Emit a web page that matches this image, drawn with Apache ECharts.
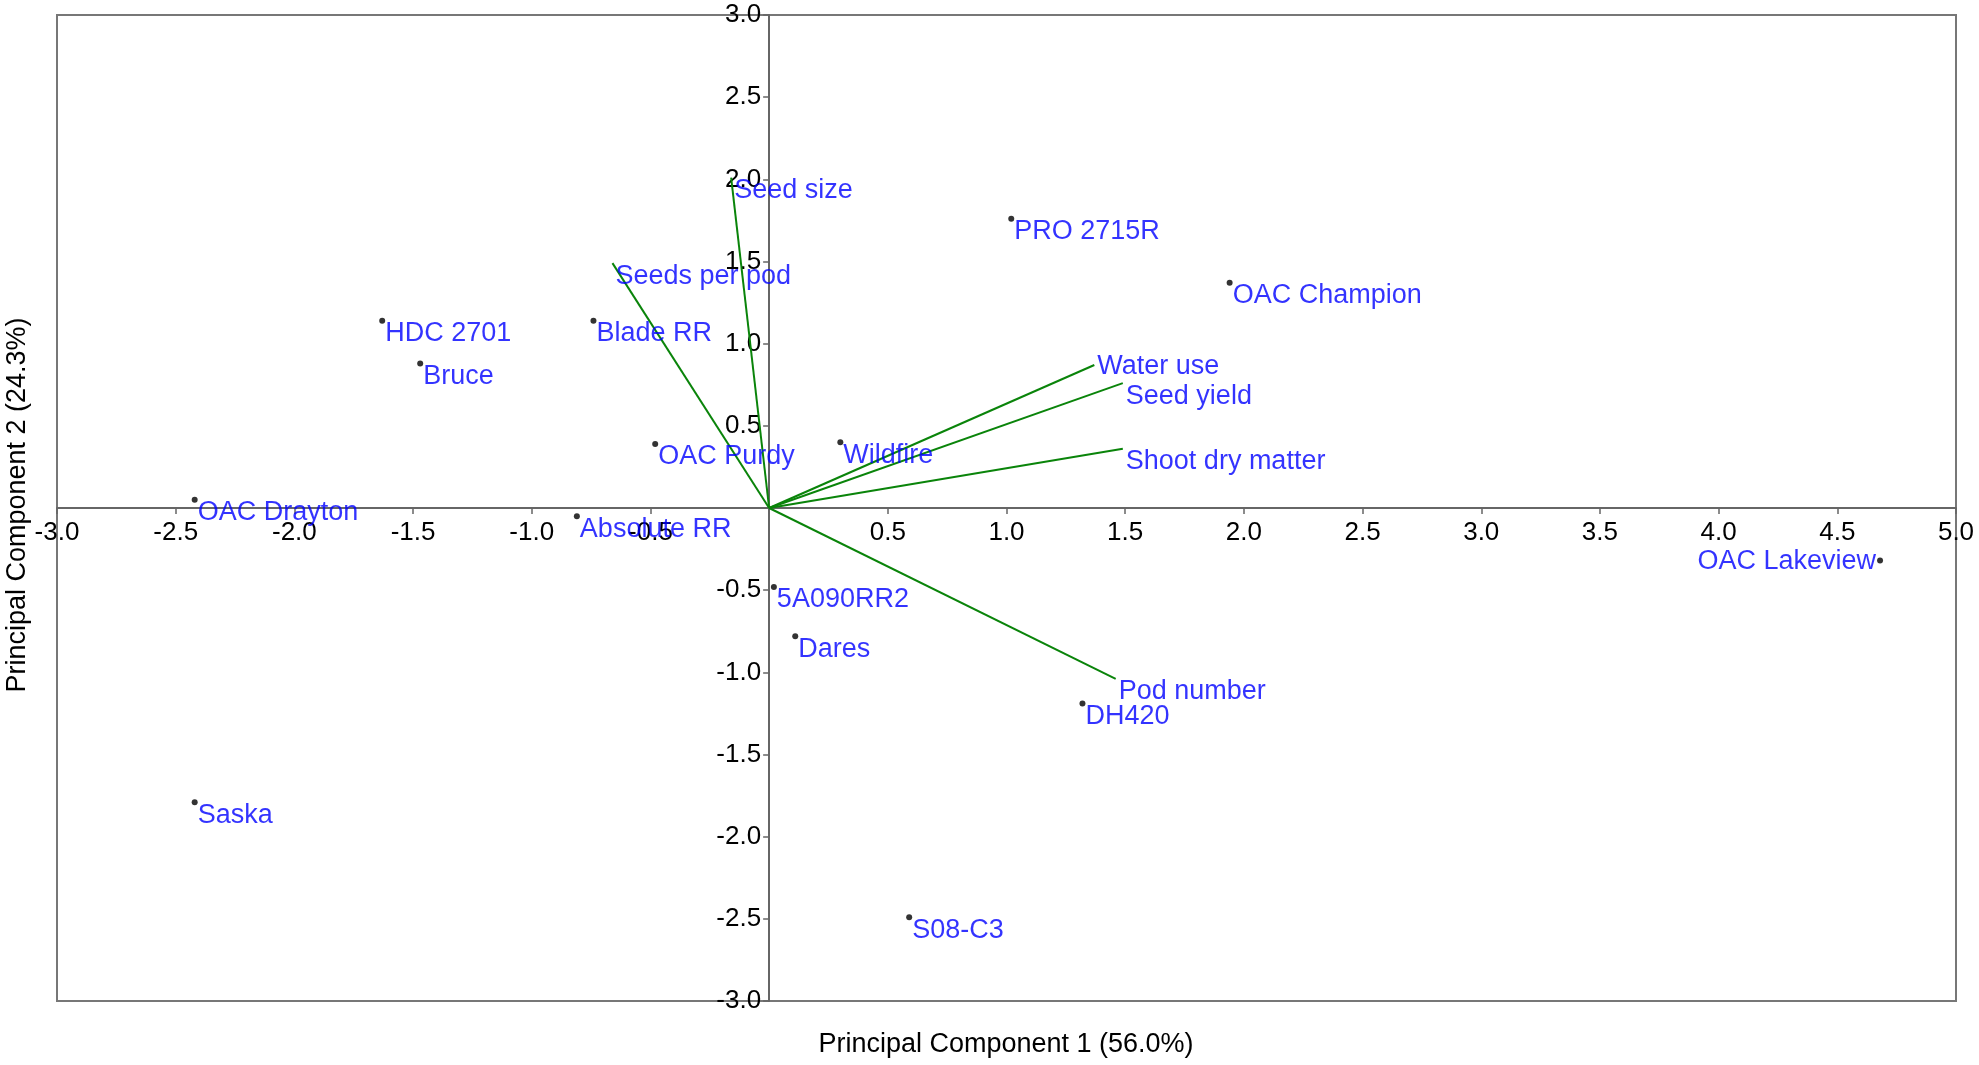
<!DOCTYPE html>
<html>
<head>
<meta charset="utf-8">
<title>PCA biplot</title>
<script src="https://cdn.jsdelivr.net/npm/echarts@6/dist/echarts.min.js"></script>
<style>
  html, body { margin: 0; padding: 0; background: #fff; }
  #chart { width: 1979px; height: 1065px; }
</style>
</head>
<body>
<div id="chart"></div>
<script>
// cultivar scores
var varieties = ['HDC 2701', 'Blade RR', 'Bruce', 'OAC Purdy', 'Wildfire', 'OAC Drayton',
    'Absolute RR', '5A090RR2', 'Dares', 'DH420', 'Saska', 'S08-C3', 'PRO 2715R',
    'OAC Champion', 'OAC Lakeview'];
var pc1 = [-1.63, -0.74, -1.47, -0.48, 0.30, -2.42, -0.81, 0.02, 0.11, 1.32, -2.42, 0.59, 1.02, 1.94, 4.68];
var pc2 = [1.14, 1.14, 0.88, 0.39, 0.40, 0.05, -0.05, -0.48, -0.78, -1.19, -1.79, -2.49, 1.76, 1.37, -0.32];

// trait loadings (vectors from origin)
var traits = ['Seed size', 'Seeds per pod', 'Water use', 'Seed yield', 'Shoot dry matter', 'Pod number'];
var traitPc1 = [-0.16, -0.66, 1.37, 1.49, 1.49, 1.46];
var traitPc2 = [2.01, 1.49, 0.87, 0.76, 0.36, -1.04];

var font = "'Liberation Sans', Arial, sans-serif";
var axisColor = '#666666';
var labelBlue = '#0000ff';

// label tweaks
var labelLeft = { 'OAC Lakeview': true };
var labelHigh = { 'Water use': true };

function tickFmt(v) {
    if (Math.abs(v) < 1e-9) return '';
    return v.toFixed(1);
}

var pointData = varieties.map(function (name, i) {
    var item = { name: name, value: [pc1[i], pc2[i]] };
    if (labelLeft[name]) {
        item.label = { position: 'left', offset: [0, 1], distance: 1 };
    }
    return item;
});

var vectorData = traits.map(function (name, i) {
    return { name: name, coords: [[0, 0], [traitPc1[i], traitPc2[i]]] };
});

var vectorEnds = traits.map(function (name, i) {
    var item = { name: name, value: [traitPc1[i], traitPc2[i]] };
    if (labelHigh[name]) {
        item.label = { offset: [0, 2] };
    }
    return item;
});

var myChart = echarts.init(document.getElementById('chart'));

var option = {
    backgroundColor: '#ffffff',
    animation: false,
    grid: {
        left: 57,
        right: 23,
        top: 15,
        bottom: 64,
        show: true,
        backgroundColor: '#ffffff',
        borderColor: '#777777',
        borderWidth: 2
    },
    xAxis: {
        type: 'value',
        min: -3,
        max: 5,
        interval: 0.5,
        offset: 0,
        axisLine: { show: true, onZero: false, lineStyle: { color: axisColor, width: 2 } },
        axisTick: { show: true, length: 6, lineStyle: { color: axisColor, width: 1.5 } },
        axisLabel: {
            formatter: tickFmt,
            color: '#000',
            fontSize: 26,
            fontFamily: font,
            margin: 12,
            showMinLabel: true,
            showMaxLabel: true
        },
        splitLine: { show: false }
    },
    yAxis: {
        type: 'value',
        min: -3,
        max: 3,
        interval: 0.5,
        offset: 0,
        axisLine: { show: true, onZero: false, lineStyle: { color: axisColor, width: 2 } },
        axisTick: { show: true, length: 6, lineStyle: { color: axisColor, width: 1.5 } },
        axisLabel: {
            formatter: tickFmt,
            color: '#000',
            fontSize: 26,
            fontFamily: font,
            margin: 8,
            showMinLabel: true,
            showMaxLabel: true
        },
        splitLine: { show: false }
    },
    graphic: [
        {
            type: 'text',
            x: 1006,
            y: 1045,
            style: {
                text: 'Principal Component 1 (56.0%)',
                fill: '#000',
                font: '27px ' + font,
                textAlign: 'center',
                textVerticalAlign: 'middle'
            }
        },
        {
            type: 'text',
            x: 18,
            y: 505,
            rotation: Math.PI / 2,
            style: {
                text: 'Principal Component 2 (24.3%)',
                fill: '#000',
                font: '27px ' + font,
                textAlign: 'center',
                textVerticalAlign: 'middle'
            }
        }
    ],
    series: [
        {
            name: 'vectors',
            type: 'lines',
            coordinateSystem: 'cartesian2d',
            polyline: false,
            silent: true,
            z: 3,
            lineStyle: { color: '#0a840a', width: 2, opacity: 1, curveness: 0 },
            data: vectorData
        },
        {
            name: 'trait labels',
            type: 'scatter',
            symbolSize: 0,
            silent: true,
            z: 4,
            label: {
                show: true,
                position: 'right',
                distance: 3,
                offset: [0, 13],
                formatter: '{b}',
                color: labelBlue,
                fontSize: 27,
                fontFamily: font
            },
            data: vectorEnds
        },
        {
            name: 'cultivars',
            type: 'scatter',
            symbol: 'circle',
            symbolSize: 6,
            z: 5,
            itemStyle: { color: '#000' },
            label: {
                show: true,
                position: 'right',
                distance: 0,
                offset: [0, 13],
                formatter: '{b}',
                color: labelBlue,
                fontSize: 27,
                fontFamily: font
            },
            data: pointData
        }
    ]
};

myChart.setOption(option);

// move both axes (line, ticks and labels) onto the zero lines
var zeroY = myChart.convertToPixel({ yAxisIndex: 0 }, 0);
var bottomY = myChart.convertToPixel({ yAxisIndex: 0 }, -3);
var zeroX = myChart.convertToPixel({ xAxisIndex: 0 }, 0);
var leftX = myChart.convertToPixel({ xAxisIndex: 0 }, -3);
myChart.setOption({
    xAxis: { offset: -(bottomY - zeroY) },
    yAxis: { offset: -(zeroX - leftX) }
});
</script>
</body>
</html>
